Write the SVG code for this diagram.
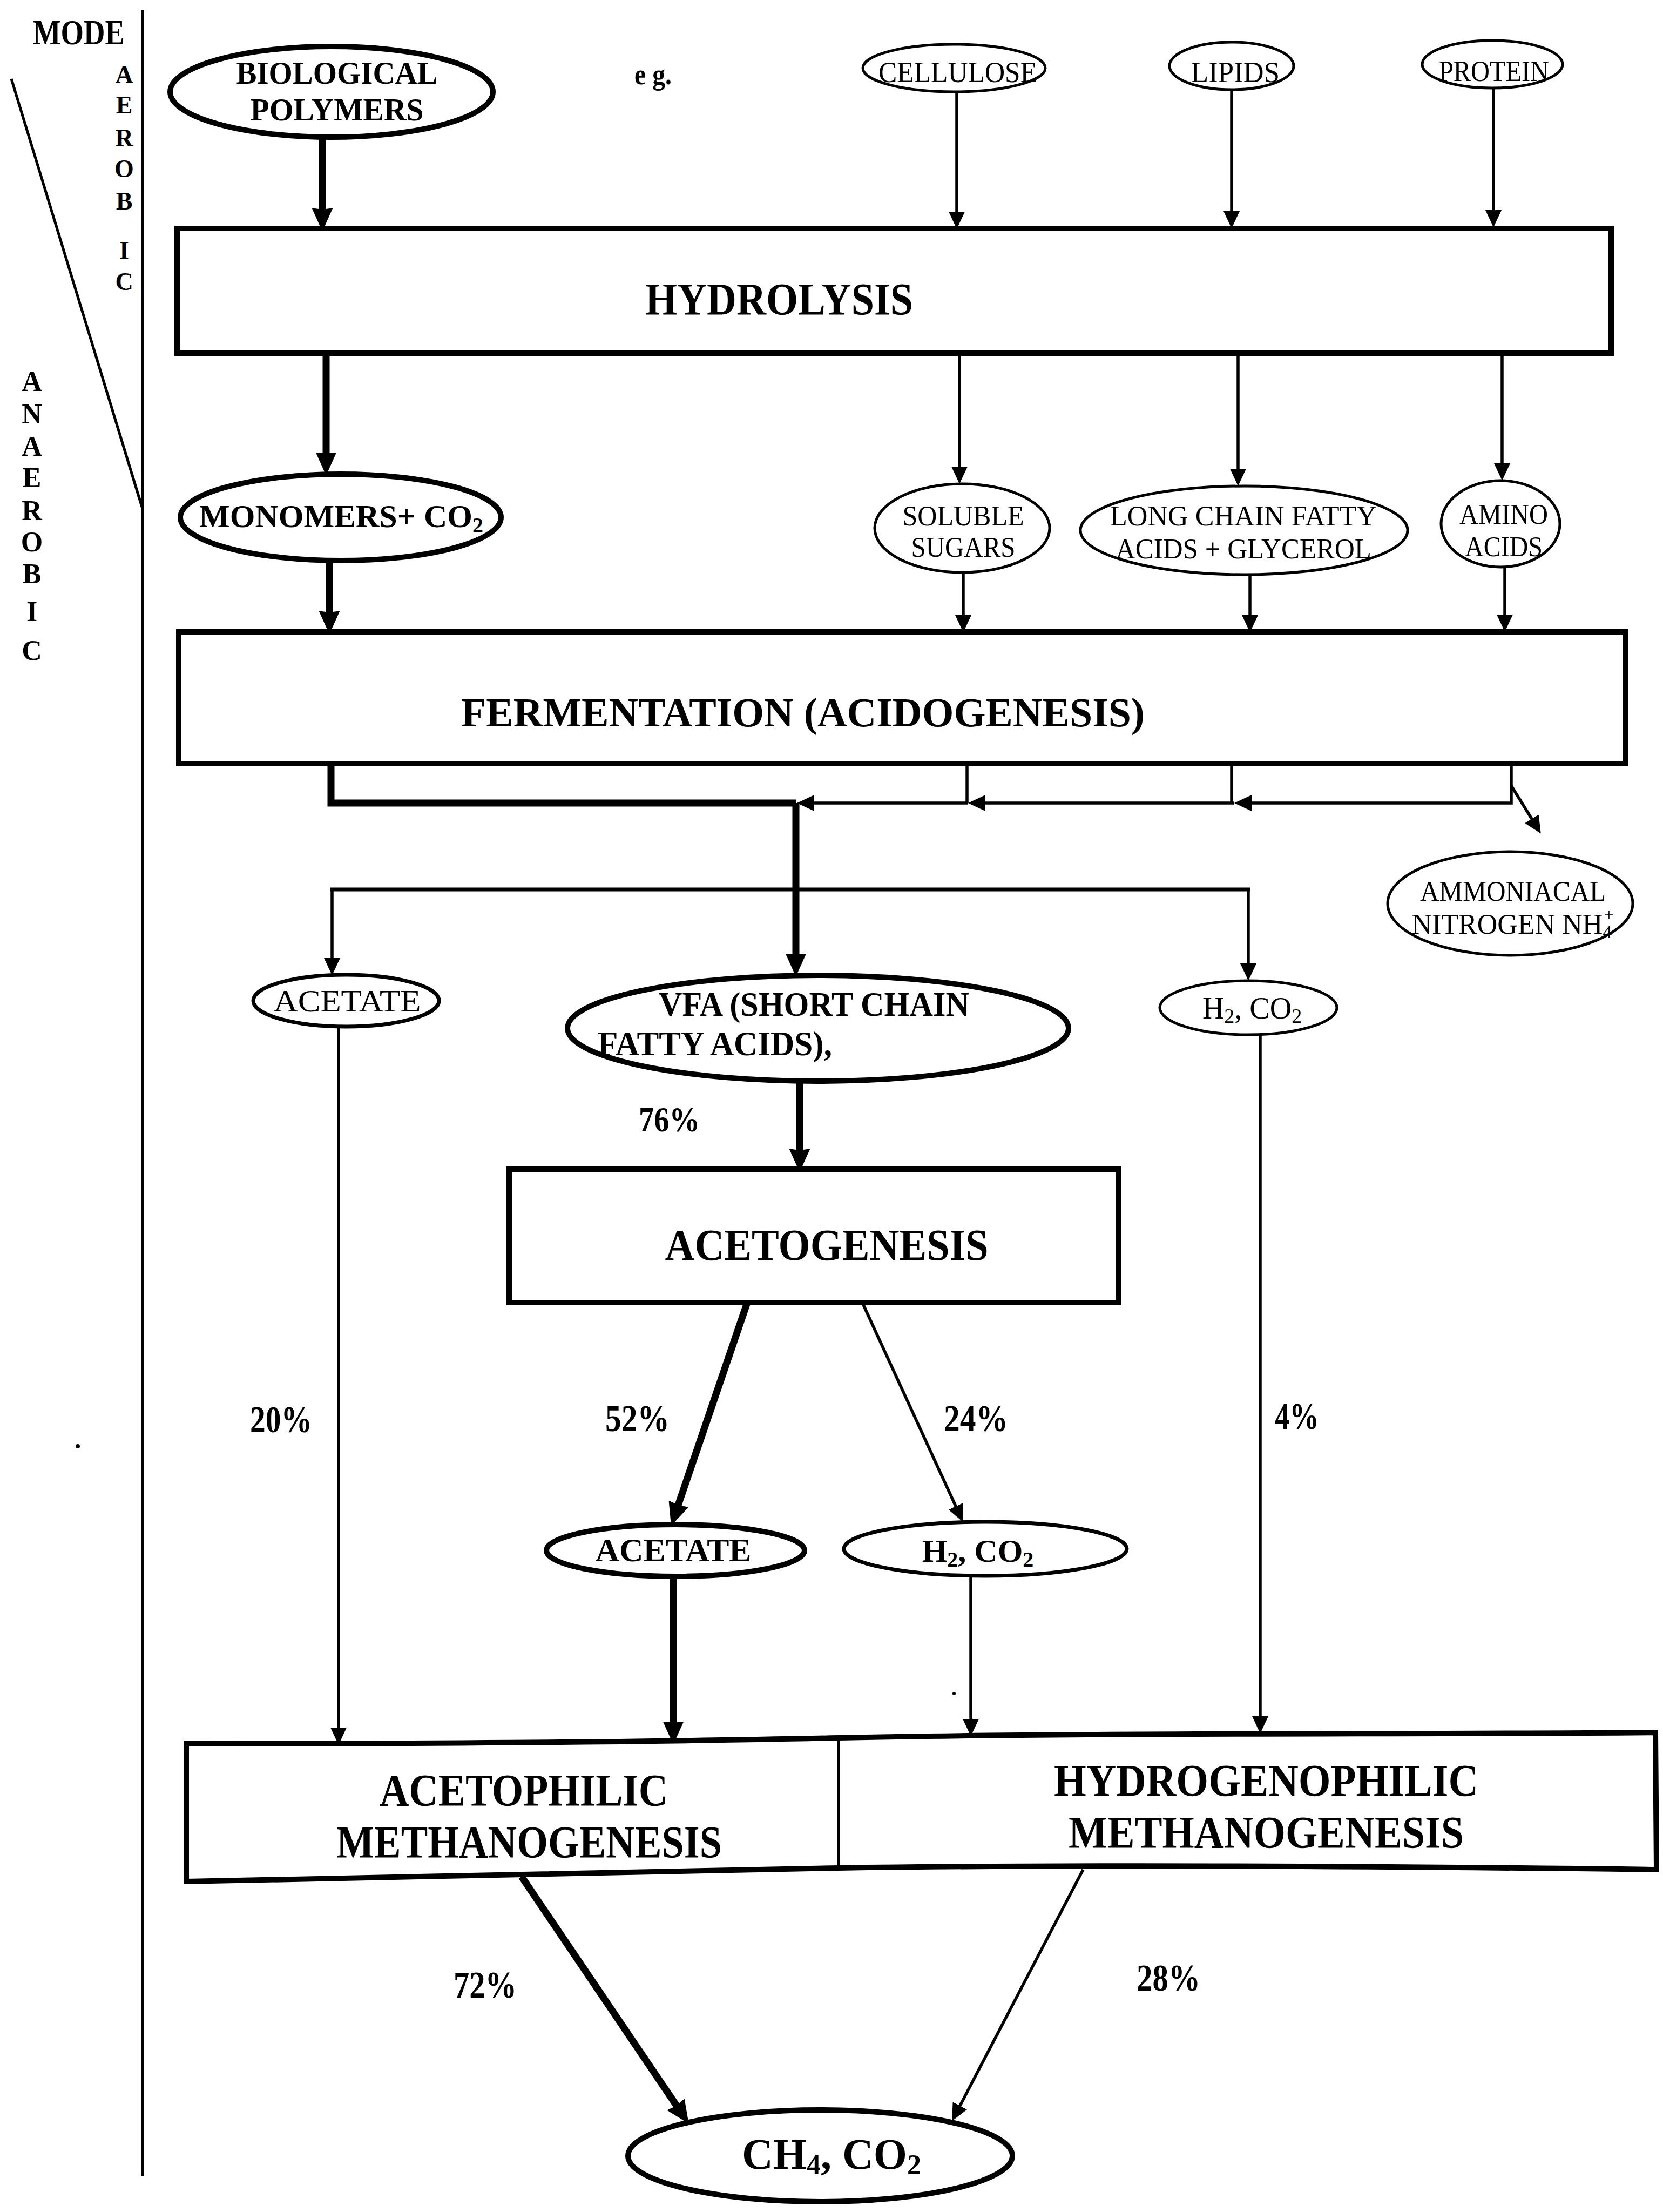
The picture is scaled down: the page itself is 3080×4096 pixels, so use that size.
<svg xmlns="http://www.w3.org/2000/svg" width="3080" height="4096" viewBox="0 0 3080 4096">
<style>
.b{font-family:"Liberation Serif","Times New Roman",serif;font-weight:bold;fill:#000}
.r{font-family:"Liberation Serif","Times New Roman",serif;font-weight:normal;fill:#000}
.thick{stroke:#000;stroke-width:13;fill:none}
.thin{stroke:#000;stroke-width:5.5;fill:none}
.mid{stroke:#000;stroke-width:7;fill:none}
.box{fill:#fff;stroke:#000;stroke-width:10}
.ell{fill:#fff;stroke:#000;stroke-width:5}
.ellm{fill:#fff;stroke:#000;stroke-width:7}
.ellb{fill:#fff;stroke:#000;stroke-width:10}
</style>
<defs>
<marker id="ah" markerUnits="userSpaceOnUse" viewBox="0 0 32 30" refX="2" refY="15" markerWidth="32" markerHeight="30" orient="auto"><path d="M0,0 L32,15 L0,30 Z" fill="#000"/></marker>
<marker id="ahb" markerUnits="userSpaceOnUse" viewBox="0 0 40 40" refX="2" refY="20" markerWidth="40" markerHeight="40" orient="auto"><path d="M0,2 Q5,20 0,38 L40,20 Z" fill="#000" stroke="#000" stroke-width="2" stroke-linejoin="round"/></marker>
</defs>
<rect width="3080" height="4096" fill="#fff"/>

<g id="mode-axis">
<line x1="264" y1="18" x2="264" y2="4030" stroke="#000" stroke-width="6"/>
<line x1="21" y1="146" x2="263" y2="939" stroke="#000" stroke-width="5"/>
<text class="b" x="61" y="82" font-size="66" textLength="170" lengthAdjust="spacingAndGlyphs">MODE</text>
<g class="b" font-size="46" text-anchor="middle">
<text x="230" y="154">A</text><text x="230" y="210">E</text><text x="230" y="271">R</text><text x="230" y="328">O</text><text x="230" y="388">B</text><text x="230" y="479">I</text><text x="230" y="537">C</text>
</g>
<g class="b" font-size="52" text-anchor="middle">
<text x="59" y="724">A</text><text x="59" y="784">N</text><text x="59" y="844">A</text><text x="59" y="902">E</text><text x="59" y="963">R</text><text x="59" y="1021">O</text><text x="59" y="1080">B</text><text x="59" y="1150">I</text><text x="59" y="1222">C</text>
</g>
<text class="b" x="1175" y="156" font-size="54" textLength="69" lengthAdjust="spacingAndGlyphs">e g.</text>
<circle cx="2121" cy="453" r="3" fill="#000"/>
<circle cx="144" cy="2678" r="4" fill="#000"/>
<circle cx="1767" cy="3136" r="3" fill="#000"/>
</g>

<g id="connectors">
<line class="thick" x1="597" y1="254" x2="597" y2="388" marker-end="url(#ahb)"/>
<line class="thick" x1="604" y1="654" x2="604" y2="840" marker-end="url(#ahb)"/>
<line class="thick" x1="610" y1="1038" x2="610" y2="1134" marker-end="url(#ahb)"/>
<line class="thin" x1="1772" y1="170" x2="1772" y2="394" marker-end="url(#ah)"/>
<line class="thin" x1="2281" y1="166" x2="2281" y2="393" marker-end="url(#ah)"/>
<line class="thin" x1="2766" y1="163" x2="2766" y2="391" marker-end="url(#ah)"/>
<line class="thin" x1="1777" y1="654" x2="1777" y2="866" marker-end="url(#ah)"/>
<line class="thin" x1="2293" y1="654" x2="2293" y2="870" marker-end="url(#ah)"/>
<line class="thin" x1="2782" y1="654" x2="2782" y2="860" marker-end="url(#ah)"/>
<line class="thin" x1="1784" y1="1060" x2="1784" y2="1141" marker-end="url(#ah)"/>
<line class="thin" x1="2315" y1="1064" x2="2315" y2="1141" marker-end="url(#ah)"/>
<line class="thin" x1="2787" y1="1050" x2="2787" y2="1140" marker-end="url(#ah)"/>
<path class="thick" d="M613,1414 V1487 H1474" stroke-linejoin="miter"/>
<line class="thick" x1="1474" y1="1487" x2="1474" y2="1768" marker-end="url(#ahb)"/>
<line class="thin" x1="1791" y1="1414" x2="1791" y2="1487"/>
<line class="thin" x1="2281" y1="1414" x2="2281" y2="1487"/>
<path class="thin" d="M2799,1414 V1487 H2316" marker-end="url(#ah)"/>
<line class="thin" x1="2286" y1="1487" x2="1823" y2="1487" marker-end="url(#ah)"/>
<line class="thin" x1="1793" y1="1487" x2="1506" y2="1487" marker-end="url(#ah)"/>
<line class="thin" x1="2799" y1="1455" x2="2838" y2="1518" marker-end="url(#ah)"/>
<line class="mid" x1="612" y1="1647" x2="2315" y2="1647"/>
<line class="thin" x1="615" y1="1647" x2="615" y2="1776" marker-end="url(#ah)"/>
<line class="thin" x1="2312" y1="1647" x2="2312" y2="1786" marker-end="url(#ah)"/>
<line class="thick" x1="1481" y1="2002" x2="1481" y2="2130" marker-end="url(#ahb)"/>
<line class="thin" x1="627" y1="1901" x2="627" y2="3201" marker-end="url(#ah)"/>
<line class="thin" x1="2334" y1="1916" x2="2334" y2="3180" marker-end="url(#ah)"/>
<line class="thick" x1="1384" y1="2412" x2="1256" y2="2787" marker-end="url(#ahb)"/>
<line class="thin" x1="1598" y1="2414" x2="1771" y2="2791" marker-end="url(#ah)"/>
<line class="thick" x1="1247" y1="2919" x2="1247" y2="3190" marker-end="url(#ahb)"/>
<line class="thin" x1="1798" y1="2918" x2="1798" y2="3185" marker-end="url(#ah)"/>
<line class="thick" x1="966" y1="3475" x2="1253" y2="3899" marker-end="url(#ahb)"/>
<line class="thin" x1="2006" y1="3462" x2="1777" y2="3901" marker-end="url(#ah)"/>
</g>

<g id="labels-pct">
<text class="b" x="1183" y="2095" font-size="66" textLength="113" lengthAdjust="spacingAndGlyphs">76%</text>
<text class="b" x="463" y="2652" font-size="70" textLength="115" lengthAdjust="spacingAndGlyphs">20%</text>
<text class="b" x="1121" y="2650" font-size="70" textLength="119" lengthAdjust="spacingAndGlyphs">52%</text>
<text class="b" x="1748" y="2650" font-size="70" textLength="119" lengthAdjust="spacingAndGlyphs">24%</text>
<text class="b" x="2361" y="2646" font-size="70" textLength="82" lengthAdjust="spacingAndGlyphs">4%</text>
<text class="b" x="840" y="3699" font-size="70" textLength="117" lengthAdjust="spacingAndGlyphs">72%</text>
<text class="b" x="2105" y="3686" font-size="70" textLength="118" lengthAdjust="spacingAndGlyphs">28%</text>
</g>

<g id="biological-polymers">
<ellipse class="ellb" cx="614" cy="170" rx="299" ry="84"/>
<text class="b" x="624" y="155" font-size="60" text-anchor="middle" textLength="373" lengthAdjust="spacingAndGlyphs">BIOLOGICAL</text>
<text class="b" x="624" y="223" font-size="60" text-anchor="middle" textLength="321" lengthAdjust="spacingAndGlyphs">POLYMERS</text>
</g>
<g id="cellulose">
<ellipse class="ell" cx="1767" cy="126" rx="169" ry="44"/>
<text class="r" x="1774" y="152" font-size="55" text-anchor="middle" textLength="294" lengthAdjust="spacingAndGlyphs">CELLULOSE</text>
</g>
<g id="lipids">
<ellipse class="ell" cx="2281" cy="122" rx="115" ry="44"/>
<text class="r" x="2288" y="152" font-size="55" text-anchor="middle" textLength="164" lengthAdjust="spacingAndGlyphs">LIPIDS</text>
</g>
<g id="protein">
<ellipse class="ell" cx="2764" cy="119" rx="130" ry="44"/>
<text class="r" x="2767" y="150" font-size="55" text-anchor="middle" textLength="204" lengthAdjust="spacingAndGlyphs">PROTEIN</text>
</g>
<g id="hydrolysis">
<rect class="box" x="328" y="423" width="2656" height="231"/>
<text class="b" x="1443" y="583" font-size="84" text-anchor="middle" textLength="496" lengthAdjust="spacingAndGlyphs">HYDROLYSIS</text>
</g>
<g id="monomers">
<ellipse class="ellb" cx="631" cy="958" rx="297" ry="80"/>
<text class="b" x="632" y="976" font-size="60" text-anchor="middle">MONOMERS+ CO<tspan dy="10" font-size="40">2</tspan></text>
</g>
<g id="soluble-sugars">
<ellipse class="ell" cx="1782" cy="978" rx="162" ry="82"/>
<text class="r" x="1784" y="973" font-size="52" text-anchor="middle" textLength="225" lengthAdjust="spacingAndGlyphs">SOLUBLE</text>
<text class="r" x="1784" y="1031" font-size="52" text-anchor="middle" textLength="193" lengthAdjust="spacingAndGlyphs">SUGARS</text>
</g>
<g id="lcfa-glycerol">
<ellipse class="ell" cx="2304" cy="982" rx="303" ry="82"/>
<text class="r" x="2303" y="973" font-size="52" text-anchor="middle" textLength="494" lengthAdjust="spacingAndGlyphs">LONG CHAIN FATTY</text>
<text class="r" x="2303" y="1034" font-size="52" text-anchor="middle" textLength="474" lengthAdjust="spacingAndGlyphs">ACIDS + GLYCEROL</text>
</g>
<g id="amino-acids">
<ellipse class="ell" cx="2779" cy="970" rx="110" ry="80"/>
<text class="r" x="2785" y="970" font-size="52" text-anchor="middle" textLength="164" lengthAdjust="spacingAndGlyphs">AMINO</text>
<text class="r" x="2785" y="1030" font-size="52" text-anchor="middle" textLength="144" lengthAdjust="spacingAndGlyphs">ACIDS</text>
</g>
<g id="fermentation">
<rect class="box" x="331" y="1170" width="2680" height="244"/>
<text class="b" x="1487" y="1345" font-size="76" text-anchor="middle" textLength="1266" lengthAdjust="spacingAndGlyphs">FERMENTATION (ACIDOGENESIS)</text>
</g>
<g id="ammoniacal">
<ellipse class="ell" cx="2797" cy="1673" rx="227" ry="96"/>
<text class="r" x="2802" y="1668" font-size="52" text-anchor="middle" textLength="344" lengthAdjust="spacingAndGlyphs">AMMONIACAL</text>
<text class="r" x="2802" y="1729" font-size="52" text-anchor="middle">NITROGEN NH<tspan dy="8" font-size="34">4</tspan><tspan dx="-15" dy="-32" font-size="34">+</tspan></text>
</g>
<g id="acetate-1">
<ellipse class="ellm" cx="641" cy="1853" rx="172" ry="48"/>
<text class="r" x="643" y="1873" font-size="56" text-anchor="middle" textLength="273" lengthAdjust="spacingAndGlyphs">ACETATE</text>
</g>
<g id="vfa">
<ellipse class="ellb" cx="1515" cy="1904" rx="464" ry="98"/>
<text class="b" x="1220" y="1881" font-size="64" textLength="575" lengthAdjust="spacingAndGlyphs">VFA (SHORT CHAIN</text>
<text class="b" x="1107" y="1954" font-size="64" textLength="434" lengthAdjust="spacingAndGlyphs">FATTY ACIDS),</text>
</g>
<g id="h2-co2-1">
<ellipse class="ell" cx="2312" cy="1866" rx="164" ry="50"/>
<text class="r" x="2319" y="1886" font-size="56" text-anchor="middle">H<tspan dy="8" font-size="38">2</tspan><tspan dy="-8">, CO</tspan><tspan dy="8" font-size="38">2</tspan></text>
</g>
<g id="acetogenesis">
<rect class="box" x="943" y="2165" width="1129" height="247"/>
<text class="b" x="1531" y="2333" font-size="82" text-anchor="middle" textLength="599" lengthAdjust="spacingAndGlyphs">ACETOGENESIS</text>
</g>
<g id="acetate-2">
<ellipse class="ellb" cx="1251" cy="2871" rx="239" ry="48"/>
<text class="b" x="1247" y="2891" font-size="62" text-anchor="middle" textLength="289" lengthAdjust="spacingAndGlyphs">ACETATE</text>
</g>
<g id="h2-co2-2">
<ellipse class="ellm" cx="1825" cy="2868" rx="262" ry="50"/>
<text class="b" x="1811" y="2892" font-size="60" text-anchor="middle">H<tspan dy="9" font-size="40">2</tspan><tspan dy="-9">, CO</tspan><tspan dy="9" font-size="40">2</tspan></text>
</g>
<g id="methanogenesis">
<path class="box" d="M345,3228 C700,3230 1200,3226 1553,3218 C2000,3208 2600,3212 3066,3208 L3068,3462 C2600,3456 2000,3452 1553,3459 C1100,3466 700,3478 345,3484 Z"/>
<line x1="1553" y1="3218" x2="1553" y2="3459" stroke="#000" stroke-width="5"/>
<text class="b" x="970" y="3344" font-size="84" text-anchor="middle" textLength="534" lengthAdjust="spacingAndGlyphs">ACETOPHILIC</text>
<text class="b" x="980" y="3440" font-size="84" text-anchor="middle" textLength="714" lengthAdjust="spacingAndGlyphs">METHANOGENESIS</text>
<text class="b" x="2345" y="3326" font-size="84" text-anchor="middle" textLength="786" lengthAdjust="spacingAndGlyphs">HYDROGENOPHILIC</text>
<text class="b" x="2345" y="3422" font-size="84" text-anchor="middle" textLength="732" lengthAdjust="spacingAndGlyphs">METHANOGENESIS</text>
</g>
<g id="ch4-co2">
<ellipse class="ellb" cx="1519" cy="3992" rx="356" ry="85"/>
<text class="b" x="1540" y="4016" font-size="80" text-anchor="middle">CH<tspan dy="10" font-size="52">4</tspan><tspan dy="-10">, CO</tspan><tspan dy="10" font-size="52">2</tspan></text>
</g>
</svg>
